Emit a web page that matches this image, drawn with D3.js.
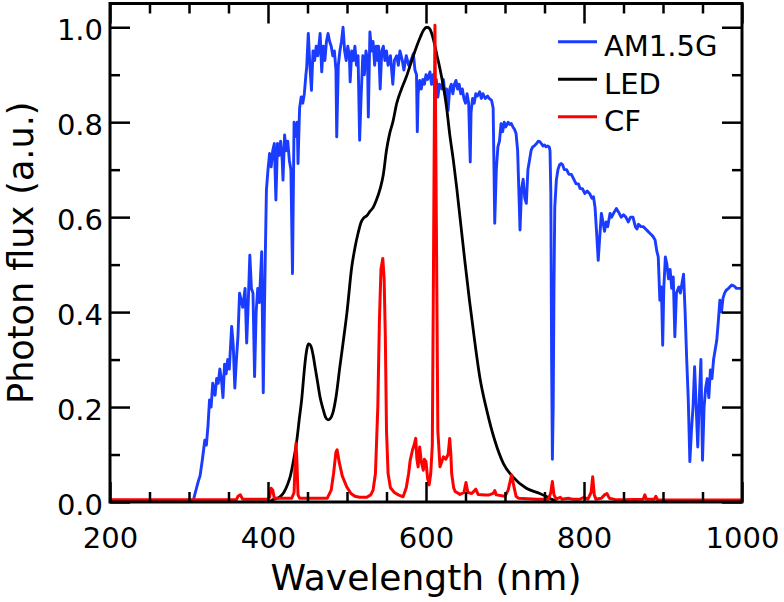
<!DOCTYPE html>
<html>
<head>
<meta charset="utf-8">
<script src="https://cdn.jsdelivr.net/npm/d3@7"></script>
<style>
  html, body { margin: 0; padding: 0; background: #fff; }
  svg { display: block; font-family: "DejaVu Sans", Verdana, sans-serif; }
</style>
</head>
<body>
<svg id="chart" width="784" height="602"></svg>
<script>
// ---------------- DATA ----------------
const seriesNames = ["AM1.5G", "LED", "CF"];
const seriesColors = ["#1a3cff", "#000000", "#ff0000"];
const xMajorTicks = [200, 400, 600, 800, 1000];
const xMinorTicks = [250, 300, 350, 450, 500, 550, 650, 700, 750, 850, 900, 950];
const yMajorTicks = [0.0, 0.2, 0.4, 0.6, 0.8, 1.0];
const yMinorTicks = [0.1, 0.3, 0.5, 0.7, 0.9];
const xTitle = "Wavelength (nm)";
const yTitle = "Photon flux (a.u.)";

// AM1.5G: [wavelength nm, normalised photon flux]
const am15g = [
[305,0.0],[308,0.02],[312,0.045],[314,0.055],[317,0.09],[320,0.13],[322,0.12],[324,0.16],[326,0.215],[328,0.2],
[330,0.25],[332,0.235],[333,0.225],[335,0.26],[337,0.25],[339,0.28],[341,0.26],[343,0.22],[345,0.29],[347,0.27],
[349,0.30],[351,0.28],[352,0.31],[354,0.37],[356,0.33],[358,0.24],[360,0.30],[362,0.35],[364,0.44],[366,0.425],
[368,0.41],[371,0.45],[373,0.335],[375,0.42],[377,0.52],[379,0.45],[381,0.44],[383,0.264],[385,0.40],[387,0.45],
[389,0.42],[392,0.527],[394,0.23],[396,0.46],[398,0.657],[400,0.70],[402,0.734],[404,0.706],[406,0.74],[408,0.755],
[410,0.636],[412,0.755],[414,0.73],[416,0.76],[418,0.72],[419,0.678],[421,0.773],[423,0.74],[425,0.76],[427,0.72],
[429,0.70],[431,0.481],[433,0.80],[435,0.77],[437,0.80],[438,0.713],[440,0.83],[442,0.853],[444,0.84],[446,0.86],
[448,0.90],[449,0.916],[451,0.987],[453,0.92],[455,0.867],[457,0.95],[459,0.93],[461,0.96],[463,0.94],[465,0.97],
[466,0.987],[468,0.906],[470,0.96],[472,0.93],[474,0.97],[476,0.987],[478,0.97],[480,0.96],[482,0.94],[484,0.95],
[486,0.91],[487,0.769],[489,0.92],[491,0.95],[493,0.97],[495,1.0],[497,0.95],[499,0.93],[501,0.96],[503,0.94],
[504,0.885],[506,0.95],[508,0.93],[510,0.96],[512,0.92],[514,0.94],[516,0.762],[518,0.86],[520,0.94],[522,0.90],
[524,0.95],[526,0.93],[527,0.811],[529,0.99],[531,0.95],[533,0.97],[535,0.92],[537,0.96],[539,0.93],[540,0.96],
[542,0.87],[544,0.95],[546,0.96],[548,0.93],[550,0.95],[552,0.92],[555,0.94],[558,0.88],[560,0.93],[563,0.94],
[565,0.92],[567,0.95],[570,0.93],[572,0.91],[575,0.94],[578,0.92],[581,0.93],[584,0.944],[586,0.91],[588,0.90],
[589,0.78],[590,0.86],[592,0.888],[594,0.87],[596,0.89],[598,0.88],[600,0.90],[602,0.89],[605,0.906],[607,0.88],
[609,0.90],[611,0.87],[613,0.89],[615,0.853],[617,0.88],[620,0.87],[622,0.89],[624,0.86],[626,0.87],[628,0.825],
[630,0.87],[632,0.88],[634,0.86],[636,0.88],[638,0.888],[640,0.87],[642,0.88],[644,0.86],[646,0.87],[648,0.85],
[650,0.84],[652,0.86],[654,0.84],[656,0.716],[657,0.82],[659,0.85],[661,0.84],[663,0.86],[665,0.855],[668,0.864],
[670,0.85],[672,0.86],[675,0.85],[678,0.855],[680,0.85],[683,0.846],[685,0.83],[687,0.587],[689,0.70],[691,0.748],
[693,0.76],[695,0.797],[697,0.78],[699,0.80],[701,0.79],[704,0.80],[706,0.795],[708,0.797],[710,0.79],[712,0.785],
[714,0.776],[716,0.74],[718,0.63],[719,0.573],[721,0.66],[723,0.68],[725,0.64],[727,0.629],[729,0.70],[731,0.72],
[733,0.74],[735,0.748],[737,0.75],[740,0.755],[742,0.76],[744,0.759],[746,0.755],[748,0.75],[750,0.752],[752,0.748],
[754,0.75],[756,0.748],[757,0.74],[758,0.65],[759,0.30],[760,0.09],[761,0.20],[762,0.45],[763,0.62],[765,0.678],
[767,0.70],[769,0.71],[771,0.713],[773,0.71],[775,0.70],[778,0.70],[781,0.69],[784,0.69],[787,0.68],[790,0.67],
[793,0.67],[795,0.66],[798,0.66],[801,0.65],[804,0.655],[807,0.65],[810,0.64],[812,0.643],[814,0.62],[816,0.566],
[818,0.509],[820,0.56],[822,0.608],[824,0.59],[826,0.57],[828,0.59],[830,0.58],[833,0.608],[835,0.60],[838,0.61],
[841,0.618],[844,0.61],[847,0.60],[850,0.605],[853,0.60],[856,0.59],[859,0.60],[862,0.60],[865,0.58],[867,0.575],
[869,0.585],[872,0.58],[875,0.58],[878,0.575],[881,0.57],[884,0.565],[887,0.56],[890,0.552],[892,0.53],[894,0.516],
[896,0.425],[898,0.453],[899.6,0.33],[901,0.45],[903,0.516],[905,0.50],[907,0.47],[909,0.49],[911,0.45],[913,0.474],
[915,0.348],[917,0.44],[920,0.453],[922,0.44],[924,0.46],[926,0.48],[928,0.40],[930,0.30],[932,0.215],[934,0.085],
[936,0.15],[938,0.20],[940,0.285],[942,0.20],[944,0.116],[946,0.22],[948,0.30],[950,0.088],[952,0.20],[954,0.24],
[956,0.26],[958,0.22],[960,0.278],[962,0.26],[964,0.30],[966,0.32],[968,0.34],[970,0.38],[972,0.425],[974,0.40],
[976,0.43],[978,0.44],[980,0.446],[983,0.45],[987,0.457],[990,0.455],[993,0.45],[996,0.45],[1000,0.45]
];

// LED emission
const led = [
[402,0.0],[405,0.004],[410,0.007],[415,0.011],[420,0.02],[425,0.038],[428,0.053],[432,0.085],[436,0.124],[440,0.18],
[442.6,0.215],[445,0.26],[447,0.295],[449,0.32],[451,0.333],[453,0.332],[455,0.325],[457,0.31],[460,0.28],[463,0.25],
[466,0.22],[470,0.194],[473,0.178],[476,0.173],[479,0.176],[482,0.187],[486,0.22],[491,0.285],[495,0.335],[500,0.40],
[506,0.495],[510,0.535],[514,0.566],[518,0.59],[521,0.598],[525,0.603],[529,0.612],[533,0.62],[537,0.635],[542,0.66],
[546,0.69],[550,0.741],[554,0.776],[558,0.80],[563,0.84],[569,0.87],[575,0.895],[581,0.925],[588,0.959],[593,0.98],
[597,0.994],[601,1.0],[604,0.998],[607,0.988],[610,0.97],[614,0.94],[618,0.91],[622,0.875],[626,0.832],[630,0.775],
[634.6,0.72],[639,0.66],[643,0.60],[649,0.51],[655,0.425],[662,0.334],[668,0.264],[676.8,0.194],[687,0.13],[698,0.081],
[710,0.053],[727,0.029],[744,0.018],[753,0.011],[760,0.005],[765,0.003]
];

// CF spectrum
const cf = [
[200,0.005],[360,0.005],[362,0.012],[365,0.015],[368,0.006],[400,0.006],[402,0.01],[404,0.029],[406,0.025],[408,0.008],
[430,0.008],[433,0.02],[434.5,0.09],[435.5,0.124],[436.5,0.09],[438,0.015],[440,0.008],[475,0.008],[480,0.025],[483,0.06],
[486,0.105],[487.5,0.11],[490,0.085],[494,0.055],[499.6,0.032],[505,0.018],[510,0.012],[516,0.01],[525,0.01],[530,0.015],
[533,0.025],[536,0.06],[539,0.2],[541,0.38],[543,0.49],[545.3,0.513],[547,0.47],[548.5,0.35],[550,0.15],[552,0.06],
[555,0.03],[560,0.02],[565,0.015],[571,0.011],[575,0.03],[578,0.06],[580,0.088],[583,0.11],[585,0.12],[587,0.134],
[588.5,0.09],[590,0.074],[592,0.116],[594,0.085],[596.6,0.067],[598,0.09],[600,0.085],[602,0.05],[604,0.036],[606,0.06],
[608,0.12],[609.2,0.42],[611.3,1.004],[613.8,0.425],[615,0.15],[617.7,0.074],[620,0.085],[622,0.095],[625,0.09],[628,0.1],
[630,0.134],[631.5,0.1],[632.5,0.06],[635,0.03],[637,0.022],[643,0.016],[648,0.02],[650.6,0.041],[653,0.02],[658,0.018],
[663,0.027],[666,0.016],[675,0.015],[680,0.015],[685,0.018],[687,0.024],[689,0.015],[700,0.012],[704,0.025],[708.4,0.057],
[711,0.035],[714,0.012],[717,0.008],[740,0.006],[755,0.006],[758,0.02],[760,0.043],[762,0.015],[765,0.006],[770,0.01],
[772,0.006],[780,0.008],[785,0.006],[795,0.006],[800,0.01],[805,0.006],[809,0.02],[811,0.053],[813,0.015],[815,0.006],
[822,0.008],[826,0.015],[829,0.018],[832,0.008],[840,0.005],[850,0.005],[875,0.006],[877,0.015],[879,0.006],[889,0.006],
[891,0.012],[893,0.005],[1000,0.004]
];

// ---------------- CHART ----------------
const svg = d3.select("#chart");
const plot = { left: 110, right: 742, top: 3.5, bottom: 502 };

const x = d3.scaleLinear().domain([200, 1000]).range([plot.left, plot.right]);
const y = d3.scaleLinear().domain([0, 1.05]).range([plot.bottom, plot.top]);

svg.append("defs").append("clipPath").attr("id", "clip")
  .append("rect").attr("x", plot.left).attr("y", plot.top)
  .attr("width", plot.right - plot.left).attr("height", plot.bottom - plot.top);

const lineLinear = d3.line().x(d => x(d[0])).y(d => y(d[1]));
const lineSmooth = d3.line().x(d => x(d[0])).y(d => y(d[1])).curve(d3.curveMonotoneX);

const g = svg.append("g").attr("clip-path", "url(#clip)");
g.append("path").datum(am15g).attr("d", lineLinear)
  .attr("fill", "none").attr("stroke", seriesColors[0]).attr("stroke-width", 2.9).attr("stroke-linejoin", "round");
g.append("path").datum(led).attr("d", lineSmooth)
  .attr("fill", "none").attr("stroke", seriesColors[1]).attr("stroke-width", 2.8).attr("stroke-linejoin", "round");
g.append("path").datum(cf).attr("d", lineLinear)
  .attr("fill", "none").attr("stroke", seriesColors[2]).attr("stroke-width", 3).attr("stroke-linejoin", "round");

// axes (ticks inward, mirrored)
const fmtY = d3.format(".1f");
function styleAxis(sel) {
  sel.select(".domain").remove();
  sel.selectAll(".tick line").attr("stroke", "#000").attr("stroke-width", 2.5);
  sel.selectAll("text").attr("fill", "#000").style("font-size", "29px")
    .style("font-family", "'DejaVu Sans', Verdana, sans-serif");
}
const axB = svg.append("g").attr("transform", `translate(0,${plot.bottom})`)
  .call(d3.axisBottom(x).tickValues(xMajorTicks).tickSize(-20).tickPadding(25).tickFormat(d3.format("d")));
styleAxis(axB);
const axBm = svg.append("g").attr("transform", `translate(0,${plot.bottom})`)
  .call(d3.axisBottom(x).tickValues(xMinorTicks).tickSize(-10).tickFormat(""));
styleAxis(axBm);
const axT = svg.append("g").attr("transform", `translate(0,${plot.top})`)
  .call(d3.axisTop(x).tickValues(xMajorTicks).tickSize(-20).tickFormat(""));
styleAxis(axT);
const axTm = svg.append("g").attr("transform", `translate(0,${plot.top})`)
  .call(d3.axisTop(x).tickValues(xMinorTicks).tickSize(-10).tickFormat(""));
styleAxis(axTm);
const axL = svg.append("g").attr("transform", `translate(${plot.left},0)`)
  .call(d3.axisLeft(y).tickValues(yMajorTicks).tickSize(-20).tickPadding(7).tickFormat(fmtY));
styleAxis(axL);
axL.selectAll("text").attr("dy", "0.43em");
const axLm = svg.append("g").attr("transform", `translate(${plot.left},0)`)
  .call(d3.axisLeft(y).tickValues(yMinorTicks).tickSize(-10).tickFormat(""));
styleAxis(axLm);
const axR = svg.append("g").attr("transform", `translate(${plot.right},0)`)
  .call(d3.axisRight(y).tickValues(yMajorTicks).tickSize(-20).tickFormat(""));
styleAxis(axR);
const axRm = svg.append("g").attr("transform", `translate(${plot.right},0)`)
  .call(d3.axisRight(y).tickValues(yMinorTicks).tickSize(-10).tickFormat(""));
styleAxis(axRm);

// frame
svg.append("rect").attr("x", plot.left).attr("y", plot.top)
  .attr("width", plot.right - plot.left).attr("height", plot.bottom - plot.top)
  .attr("fill", "none").attr("stroke", "#000").attr("stroke-width", 3);

// titles
svg.append("text").attr("x", (plot.left + plot.right) / 2).attr("y", 590)
  .attr("text-anchor", "middle").style("font-size", "36px").attr("fill", "#000").text(xTitle);
svg.append("text").attr("transform", `translate(33,${(plot.top + plot.bottom) / 2}) rotate(-90)`)
  .attr("text-anchor", "middle").style("font-size", "35px").attr("fill", "#000").text(yTitle);

// legend
const legend = svg.append("g");
seriesNames.forEach((name, i) => {
  const ly = 41.7 + i * 37.5;
  legend.append("line").attr("x1", 558).attr("x2", 597).attr("y1", ly).attr("y2", ly)
    .attr("stroke", seriesColors[i]).attr("stroke-width", 3);
  legend.append("text").attr("x", 604).attr("y", ly + 14.5)
    .style("font-size", "29px").attr("fill", "#000").text(name);
});
</script>
</body>
</html>
